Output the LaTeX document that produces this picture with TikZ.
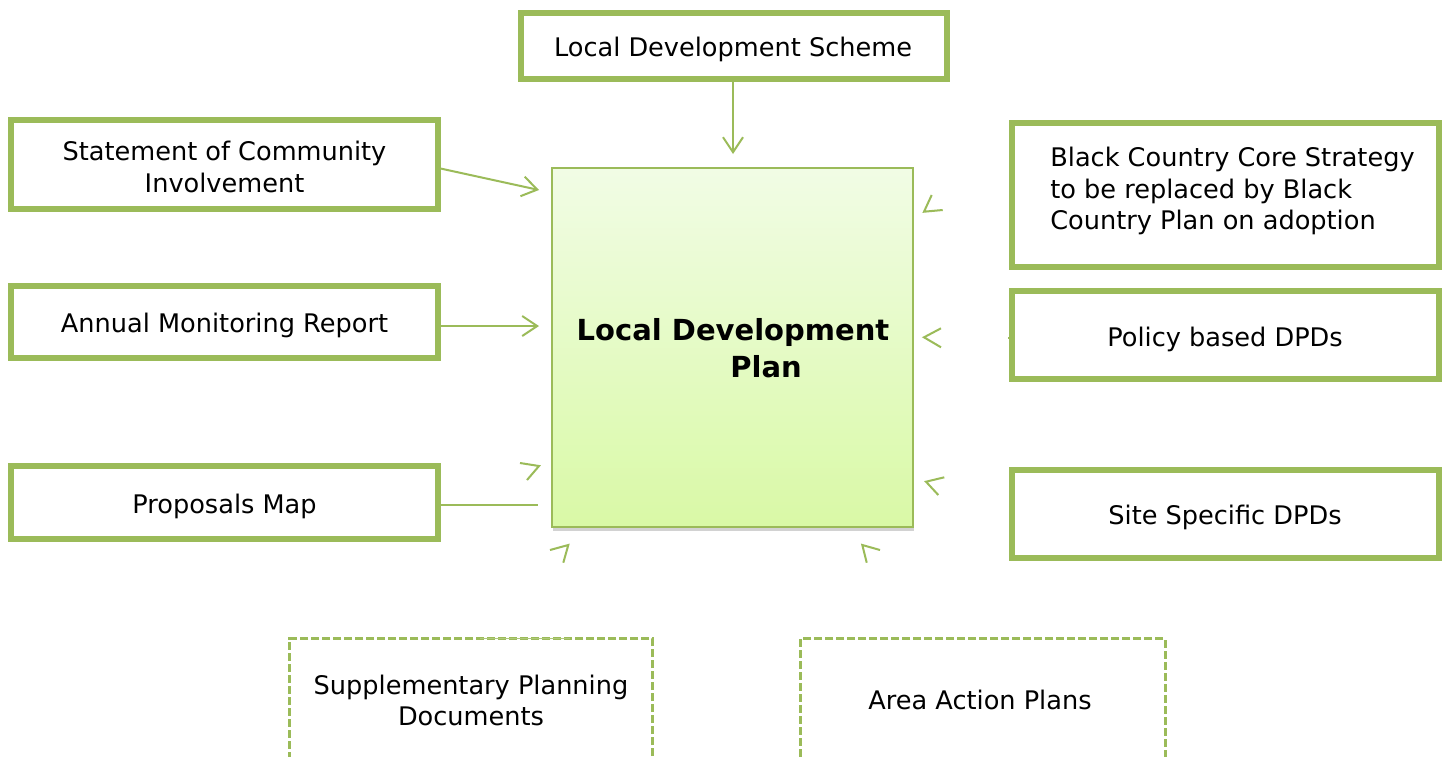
\documentclass[tikz,border=0pt]{standalone}
\usepackage{fontspec}
\setmainfont{DejaVu Sans}
\usetikzlibrary{arrows.meta,shadows,calc}
\definecolor{lgreen}{HTML}{9BBB59}
\definecolor{ldptop}{HTML}{F1FCE5}
\definecolor{ldpbot}{HTML}{D9F9A6}
\begin{document}
\begin{tikzpicture}[x=0.5pt,y=-0.5pt,
  box/.style={draw=lgreen, line width=2.8pt, fill=white, inner sep=0pt, outer sep=0pt, minimum width=213.7pt},
  dbox/.style={draw=lgreen, line width=1.5pt, dash pattern=on 4pt off 1.5pt, inner sep=0pt, outer sep=0pt},
  txt/.style={inner sep=0pt, align=center, font=\fontsize{12.8pt}{15.75pt}\selectfont},
  conn/.style={draw=lgreen, line width=1pt},
  arr/.style={conn, -{Straight Barb[length=7.5pt,width=10pt]}},
  chev/.style={draw=lgreen, line width=1pt}
]
\useasboundingbox (0,0) rectangle (1446,756);
\fill[white] (0,0) rectangle (1446,756);
\clip (0,0) rectangle (1446,756);

% boxes
\node[box, minimum width=213.2pt, minimum height=33.2pt] (lds) at (734,46) {};
\node[txt] (ldstxt) at (733,49.5) {Local Development Scheme};
\node[box, minimum height=44.7pt] (sci) at (224.5,164.5) {};
\node[txt] (scitxt) at (224.5,167) {Statement of Community\\Involvement};
\node[box, minimum height=36.2pt] (amr) at (224.5,322) {};
\node[txt] (amrtxt) at (224.5,325.5) {Annual Monitoring Report};
\node[box, minimum height=36.7pt] (pm) at (224.5,502.5) {};
\node[txt] (pmtxt) at (224.5,506) {Proposals Map};
\node[box, minimum height=72.2pt] (bccs) at (1225.5,195) {};
\node[txt, align=left] (bccstxt) at (1232.5,191) {Black Country Core Strategy\\to be replaced by Black\\Country Plan on adoption};
\node[box, minimum height=44.2pt] (pol) at (1225.5,335) {};
\node[txt] (poltxt) at (1225,339.5) {Policy based DPDs};
\node[box, minimum height=44.2pt] (site) at (1225.5,514) {};
\node[txt] (sitetxt) at (1225,517.5) {Site Specific DPDs};

% central box
\node[draw=lgreen, line width=1.2pt, top color=ldptop, bottom color=ldpbot,
      minimum width=180.5pt, minimum height=179.5pt, inner sep=0pt, outer sep=0pt,
      drop shadow={shadow xshift=0.6pt, shadow yshift=-1.8pt, opacity=0.25, fill=black!70}] (ldp) at (732.5,347.5) {};
\node[txt, font=\bfseries\fontsize{14.5pt}{18.5pt}\selectfont] (ldptxt) at (733,348.5) {Local Development\\\hspace*{33pt}Plan};

% dashed boxes
\node[dbox, minimum width=181.5pt, minimum height=80.75pt] (spd) at (471,719.25) {};
\node[txt] (spdtxt) at (471,700.5) {Supplementary Planning\\Documents};
\node[dbox, minimum width=182.25pt, minimum height=80.75pt] (aap) at (982.75,719.25) {};
\node[txt] (aaptxt) at (980,700) {Area Action Plans};

% connector end points
\coordinate (ldsend) at (733,154);
\coordinate (sciend) at (539,190);
\coordinate (amrend) at (539,326);
\coordinate (pmend) at (538,505);

\draw[arr] (lds.south -| ldsend) -- (ldsend);
\draw[arr] ([yshift=-1.75pt]sci.east) -- (sciend);
\draw[arr] ([yshift=-2pt]amr.east) -- (amrend);
\draw[conn] ([yshift=-1.25pt]pm.east) -- (pmend);
\draw[conn] ([yshift=-1.5pt]pol.west) -- ++(-4,0);
\draw[lgreen!80, line width=0.8pt] ([xshift=4.5pt]spd.north) -- ++(90,0);

% detached arrowheads
\draw[chev] (520,463) -- (539,466) -- (527,480);
\draw[chev] (931.7,195) -- (924,211.7) -- (942.7,210);
\draw[chev] (941,328.3) -- (924,337.3) -- (941,347.3);
\draw[chev] (944.3,477.3) -- (926,481.7) -- (938.3,495);
\draw[chev] (550,550) -- (568.3,545) -- (563.3,562.7);
\draw[chev] (880,550) -- (862.3,545) -- (866.7,562.7);
\end{tikzpicture}
\end{document}
